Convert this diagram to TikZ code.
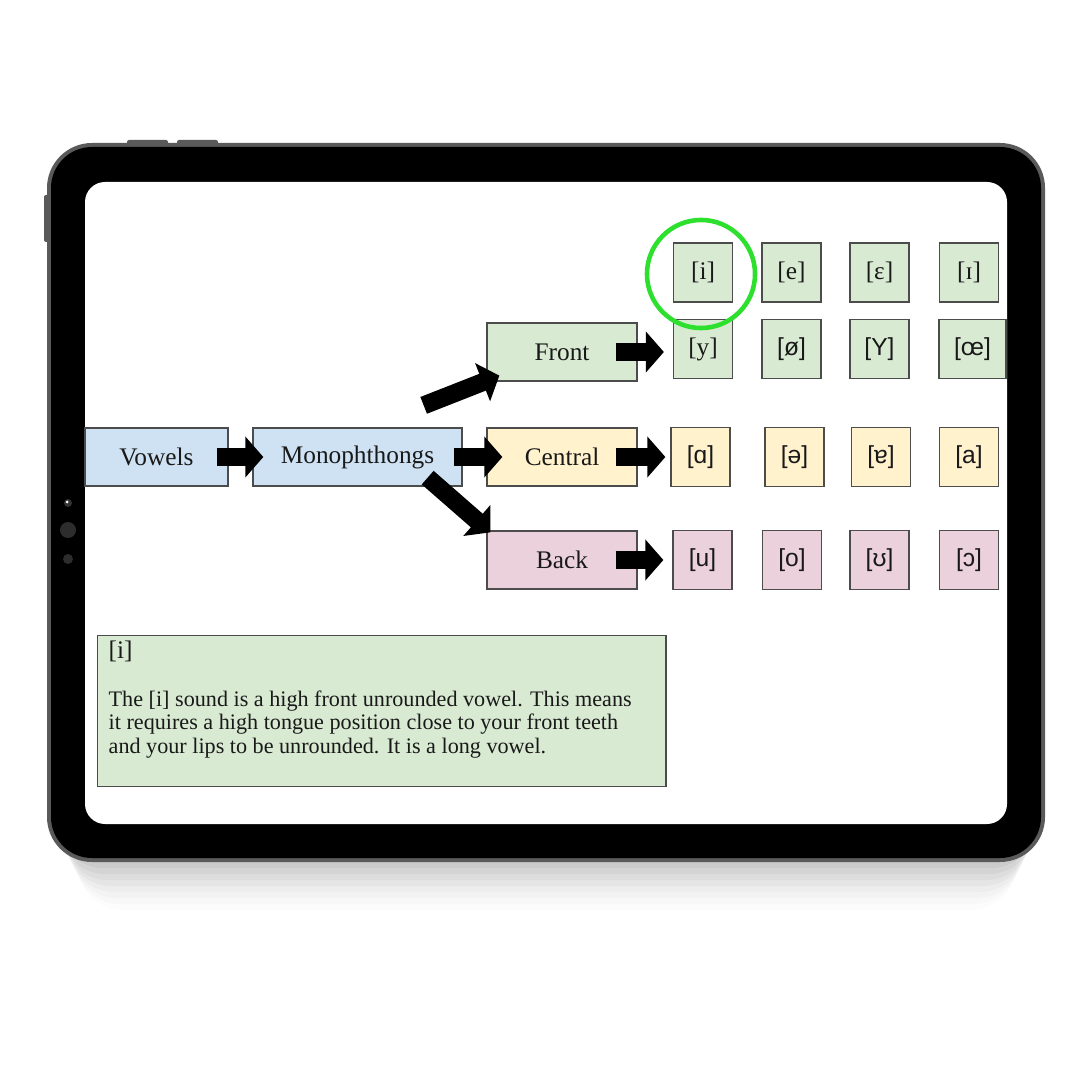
\documentclass[tikz,border=0pt]{standalone}
\usepackage{fontspec}
\setmainfont{Liberation Serif}
\newfontfamily\ipasans{Liberation Sans}
\usepackage{tikz}
\usetikzlibrary{arrows.meta,calc}
\usepackage{xcolor}
\definecolor{rootfill}{HTML}{CFE2F3}
\definecolor{frontfill}{HTML}{D9EAD3}
\definecolor{centralfill}{HTML}{FFF2CC}
\definecolor{backfill}{HTML}{EAD1DC}
\definecolor{rimgray}{HTML}{5A5A5A}
\definecolor{ringgreen}{RGB}{46,224,46}

\begin{document}
\begin{tikzpicture}[x=0.01cm,y=-0.01cm,font=\fontsize{7.2}{8.6}\selectfont,
  box/.style={draw=gray!60!black,line width=0.35pt,inner sep=0pt,text=black!90},
  catbox/.style={box,minimum width=1.5cm,minimum height=0.58cm},
  vbox/.style={box,minimum size=0.59cm},
  ipa/.style={font=\ipasans\fontsize{7}{8.4}\selectfont},
  flow/.style={black,line width=0.18cm,-{Triangle[length=0.18cm,width=0.4cm]}},
  ring/.style={draw=ringgreen,line width=1.3pt}]
\path[use as bounding box,fill=white] (0,0) rectangle (1080,1080);
% tablet
\fill[black,opacity=0.035,rounded corners=0.45cm] (58,156) rectangle (1036,868);
\fill[black,opacity=0.035,rounded corners=0.45cm] (60,160) rectangle (1034,874);
\fill[black,opacity=0.03,rounded corners=0.45cm] (63,164) rectangle (1031,880);
\fill[black,opacity=0.03,rounded corners=0.45cm] (66,168) rectangle (1028,886);
\fill[black,opacity=0.025,rounded corners=0.45cm] (69,172) rectangle (1025,892);
\fill[black,opacity=0.02,rounded corners=0.45cm] (72,176) rectangle (1022,898);
\fill[black,opacity=0.015,rounded corners=0.45cm] (75,180) rectangle (1019,904);
\fill[black,opacity=0.01,rounded corners=0.45cm] (78,184) rectangle (1016,910);
\fill[rimgray,rounded corners=0.02cm] (127,140) rectangle (168,150);
\fill[rimgray,rounded corners=0.02cm] (177,140) rectangle (218,150);
\fill[rimgray,rounded corners=0.02cm] (44,195) rectangle (52,242);
\fill[rimgray,rounded corners=0.45cm] (47,143) rectangle (1045,862);
\fill[black,rounded corners=0.41cm] (51,147) rectangle (1041,858);
\fill[white,rounded corners=0.2cm] (85,182) rectangle (1007,824);
\fill[gray!40!black] (68,503) circle (0.04cm);
\fill[white] (67,502) circle (0.015cm);
\fill[gray!35!black] (68,530) circle (0.08cm);
\fill[gray!35!black] (68,559) circle (0.05cm);
% tree
\node[box,fill=rootfill,minimum width=1.43cm,minimum height=0.58cm] (vowels) at (156.5,457) {Vowels};
\node[box,fill=rootfill,minimum width=2.09cm,minimum height=0.58cm] (mono) at (357.5,457) {Monophthongs};
\node[catbox,fill=frontfill] (front) at (562,352) {Front};
\node[catbox,fill=centralfill] (central) at (562,457) {Central};
\node[catbox,fill=backfill] (back) at (562,560) {Back};
% vowels
\node[vbox,fill=frontfill] (iv) at (703,272.5) {[i]};
\node[vbox,fill=frontfill] (ev) at (791.5,272.5) {[e]};
\node[vbox,fill=frontfill] (epsv) at (879.5,272.5) {[ɛ]};
\node[vbox,fill=frontfill] (smalliv) at (969,272.5) {[ɪ]};
\node[vbox,fill=frontfill] (yv) at (703,349) {[y]};
\node[vbox,fill=frontfill,ipa] (oslv) at (791.5,349) {[ø]};
\node[vbox,fill=frontfill,ipa] (capyv) at (879.5,349) {[Y]};
\node[vbox,fill=frontfill,minimum width=0.67cm,ipa] (oev) at (972.5,349) {[œ]};
\node[vbox,fill=centralfill,ipa] (alphav) at (700.5,457) {[ɑ]};
\node[vbox,fill=centralfill,ipa] (schwav) at (794.5,457) {[ə]};
\node[vbox,fill=centralfill,ipa] (turnav) at (881,457) {[ɐ]};
\node[vbox,fill=centralfill,ipa] (av) at (969,457) {[a]};
\node[vbox,fill=backfill,ipa] (uv) at (702.5,560) {[u]};
\node[vbox,fill=backfill,ipa] (ov) at (792,560) {[o]};
\node[vbox,fill=backfill,ipa] (upsv) at (879.5,560) {[ʊ]};
\node[vbox,fill=backfill,ipa] (openov) at (969,560) {[ɔ]};
% arrows
\coordinate (uptail) at ($(mono.north east)+(-39,-22)$);
\coordinate (uptip) at ($(front.south west)+(13,-6)$);
\coordinate (downtail) at ($(mono.south east)+(-35,-9)$);
\coordinate (downtip) at ($(back.north west)+(4,2)$);
\draw[flow,shorten <=-0.12cm,shorten >=-0.11cm] (vowels.east) -- (mono.west);
\draw[flow,shorten <=-0.09cm,shorten >=-0.16cm] (mono.east) -- (central.west);
\draw[flow] (uptail) -- (uptip);
\draw[flow] (downtail) -- (downtip);
\draw[flow,shorten <=-0.22cm,shorten >=0.09cm] (front.east) -- (front.east -| yv.west);
\draw[flow,shorten <=-0.22cm,shorten >=0.05cm] (central.east) -- (alphav.west);
\draw[flow,shorten <=-0.22cm,shorten >=0.09cm] (back.east) -- (back.east -| uv.west);
\draw[ring] (701,274) circle (0.54cm);
% description
\node[box,fill=frontfill,anchor=north west,minimum width=5.68cm,minimum height=1.51cm] (infobox) at (97,635) {};
\node[anchor=base west,inner sep=0pt,text=black!90] (infotitle) at (108,658) {[i]};
\node[anchor=north west,inner sep=0pt,align=left,text=black!90,font=\fontsize{6.3}{6.7}\selectfont] (infotext) at (108,690) {The [i] sound is a high front unrounded vowel. This means\\it requires a high tongue position close to your front teeth\\and your lips to be unrounded. It is a long vowel.};
\end{tikzpicture}
\end{document}
